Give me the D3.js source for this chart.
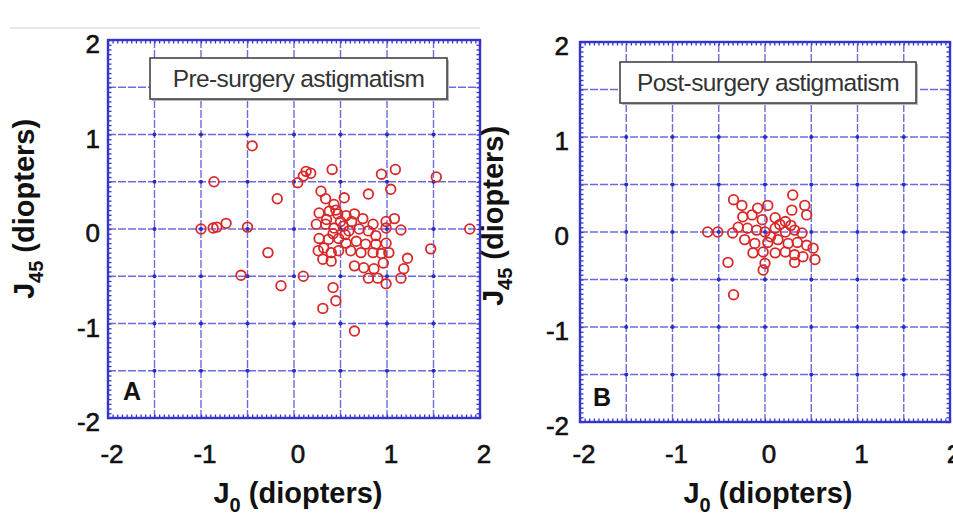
<!DOCTYPE html>
<html><head><meta charset="utf-8">
<script src="https://cdn.jsdelivr.net/npm/d3@7"></script>
<style>
html,body{margin:0;padding:0;background:#fff;}
svg{display:block;font-family:"Liberation Sans",Arial,Helvetica,sans-serif;}
</style></head>
<body>
<svg id="chart" width="953" height="516"></svg>
<script>
// ---------- data ----------
const tickValues = [-2, -1, 0, 1, 2];
const gridValues = [-2, -1.5, -1, -0.5, 0, 0.5, 1, 1.5, 2];
const panelLetters = ["A", "B"];
const panelTitles = ["Pre-surgery astigmatism", "Post-surgery astigmatism"];

const preJ0  = [-0.45,-0.86,-0.18,-1.0,-0.87,-0.83,-0.73,-0.5,-0.28,-0.57,-0.14,0.10,0.04,0.10,0.13,0.18,0.41,0.94,1.09,1.04,0.80,1.53,1.89,1.15,1.47,1.22,1.18,1.15,0.99,0.90,0.65,0.31,0.42,0.45,
  0.29,0.34,0.43,0.54,0.27,0.38,0.47,0.56,0.65,0.74,0.85,0.99,1.08,0.24,0.34,0.43,0.53,0.59,0.70,0.80,0.88,0.99,0.27,0.37,0.48,0.56,0.67,0.77,0.88,0.99,0.26,0.32,0.40,0.48,0.61,0.72,0.85,0.94,0.31,0.40,0.65,0.75,0.86,0.96,1.02,0.80,0.45,0.50,0.62,0.42,0.55,0.35];
const preJ45 = [0.88,0.50,0.32,0.0,0.01,0.02,0.06,0.02,-0.25,-0.49,-0.6,-0.50,0.49,0.56,0.61,0.59,0.63,0.58,0.63,0.42,0.37,0.55,0.0,-0.01,-0.21,-0.31,-0.42,-0.52,-0.58,-0.52,-1.08,-0.84,-0.62,-0.76,
  0.40,0.32,0.26,0.33,0.17,0.19,0.16,0.14,0.16,0.11,0.05,0.08,0.11,0.05,0.05,0.01,0.03,-0.02,0.0,-0.02,-0.07,0.01,-0.10,-0.11,-0.10,-0.15,-0.13,-0.16,-0.16,-0.15,-0.23,-0.20,-0.25,-0.23,-0.23,-0.25,-0.25,-0.26,-0.32,-0.34,-0.39,-0.41,-0.42,-0.36,-0.25,-0.52,0.20,0.08,0.08,-0.05,-0.06,0.10];

const postJ0  = [-0.62,-0.51,-0.34,-0.25,-0.08,0.03,0.30,0.29,0.43,0.45,-0.24,-0.14,-0.03,0.11,0.22,-0.35,-0.29,-0.19,-0.09,0.0,0.11,0.22,0.32,0.40,-0.22,-0.11,0.03,0.14,0.25,0.35,0.45,-0.13,-0.02,0.11,0.22,0.32,0.41,0.52,0.0,0.32,0.54,-0.40,-0.02,-0.34,0.16,0.06,0.28];
const postJ45 = [0.0,0.0,0.34,0.28,0.25,0.28,0.39,0.23,0.28,0.18,0.16,0.18,0.13,0.15,0.11,-0.01,0.05,0.04,0.02,0.0,0.04,0.0,0.02,-0.01,-0.08,-0.12,-0.11,-0.08,-0.12,-0.11,-0.14,-0.22,-0.21,-0.22,-0.21,-0.24,-0.26,-0.17,-0.33,-0.32,-0.29,-0.32,-0.40,-0.66,0.08,-0.05,0.07];

// ---------- layout ----------
const svg = d3.select("#chart");
const blue = "#3535cc";
const gridBlue = "#6c6cdc";

svg.append("line").attr("x1", 10).attr("x2", 480).attr("y1", 28).attr("y2", 28)
  .attr("stroke", "#d0d0d0").attr("stroke-width", 1);

const panels = [
  {x0: 108, x1: 480, y0: 418, y1: 40, J0: preJ0, J45: preJ45, legend: [150, 58, 297, 41], letter: [123, 400],
   ytitle: [34, 209], xtitle: 298},
  {x0: 580, x1: 950, y0: 422, y1: 42, J0: postJ0, J45: postJ45, legend: [620, 62, 296, 41], letter: [593, 406],
   ytitle: [503, 216], xtitle: 768}
];

panels.forEach((p, i) => {
  const x = d3.scaleLinear().domain([-2, 2]).range([p.x0, p.x1]);
  const y = d3.scaleLinear().domain([-2, 2]).range([p.y0, p.y1]);
  const g = svg.append("g");

  // grid lines
  const inner = gridValues.slice(1, -1);
  g.selectAll(".gx").data(inner).join("line")
    .attr("x1", d => x(d)).attr("x2", d => x(d)).attr("y1", y(-2)).attr("y2", y(2))
    .attr("stroke", gridBlue).attr("stroke-width", 1.4).attr("stroke-dasharray", "8,2");
  g.selectAll(".gy").data(inner).join("line")
    .attr("y1", d => y(d)).attr("y2", d => y(d)).attr("x1", x(-2)).attr("x2", x(2))
    .attr("stroke", gridBlue).attr("stroke-width", 1.4).attr("stroke-dasharray", "8,2");
  const inter = [];
  inner.forEach(a => inner.forEach(b => inter.push([a, b])));
  g.selectAll(".gd").data(inter).join("circle")
    .attr("cx", d => x(d[0])).attr("cy", d => y(d[1])).attr("r", 2).attr("fill", "#2c2cc4");

  // minor ticks via d3 axes
  const minor = d3.range(-2, 2.0001, 0.05).map(v => +v.toFixed(2));
  const mk = (axis) => axis.tickValues(minor).tickSize(3.5).tickFormat("");
  const styleAx = sel => { sel.select(".domain").remove(); sel.selectAll("line").attr("stroke", blue).attr("stroke-width", 1.3); };
  g.append("g").attr("transform", `translate(0,${y(-2)})`).call(mk(d3.axisTop(x))).call(styleAx);
  g.append("g").attr("transform", `translate(0,${y(2)})`).call(mk(d3.axisBottom(x))).call(styleAx);
  g.append("g").attr("transform", `translate(${x(-2)},0)`).call(mk(d3.axisRight(y))).call(styleAx);
  g.append("g").attr("transform", `translate(${x(2)},0)`).call(mk(d3.axisLeft(y))).call(styleAx);

  // frame
  g.append("rect").attr("x", x(-2)).attr("y", y(2)).attr("width", x(2) - x(-2)).attr("height", y(-2) - y(2))
    .attr("fill", "none").attr("stroke", blue).attr("stroke-width", 2.4);

  // legend box
  const [lx, ly, lw, lh] = p.legend;
  g.append("rect").attr("x", lx + 2).attr("y", ly + 2).attr("width", lw).attr("height", lh).attr("fill", "#bbb");
  g.append("rect").attr("x", lx).attr("y", ly).attr("width", lw).attr("height", lh)
    .attr("fill", "#fff").attr("stroke", "#444").attr("stroke-width", 1.6);
  g.append("text").attr("x", lx + lw / 2).attr("y", ly + lh / 2 + 8).attr("text-anchor", "middle")
    .attr("font-size", 24.5).attr("fill", "#333").attr("letter-spacing", -0.6).text(panelTitles[i]);

  // points
  g.selectAll(".pt").data(p.J0.map((v, k) => [v, p.J45[k]])).join("circle")
    .attr("cx", d => x(d[0])).attr("cy", d => y(d[1])).attr("r", 4.8)
    .attr("fill", "none").attr("stroke", "#d92828").attr("stroke-width", 1.8);

  // panel letter
  g.append("text").attr("x", p.letter[0]).attr("y", p.letter[1]).attr("font-size", 25)
    .attr("font-weight", "bold").attr("fill", "#111").text(panelLetters[i]);

  // tick labels
  g.selectAll(".xl").data(tickValues).join("text")
    .attr("x", d => x(d) + 4).attr("y", 463).attr("text-anchor", "middle")
    .attr("font-size", 26).attr("fill", "#111").attr("stroke", "#111").attr("stroke-width", 0.6).text(d => d);
  g.selectAll(".yl").data(tickValues).join("text")
    .attr("x", x(-2) - (i === 0 ? 8 : 11)).attr("y", d => y(d) + 13).attr("text-anchor", "end")
    .attr("font-size", 26).attr("fill", "#111").attr("stroke", "#111").attr("stroke-width", 0.6).text(d => d);

  // axis titles
  const xt = g.append("text").attr("x", p.xtitle).attr("y", 503).attr("text-anchor", "middle")
    .attr("font-size", 29).attr("fill", "#111").attr("font-weight", "bold");
  xt.append("tspan").text("J");
  xt.append("tspan").attr("font-size", 20).attr("dy", 9).text("0");
  xt.append("tspan").attr("dy", -9).text(" (diopters)");

  const yt = g.append("text").attr("transform", `translate(${p.ytitle[0]},${p.ytitle[1]}) rotate(-90)`)
    .attr("text-anchor", "middle").attr("font-size", 29).attr("fill", "#111").attr("font-weight", "bold");
  yt.append("tspan").text("J");
  yt.append("tspan").attr("font-size", 20).attr("dy", 9).text("45");
  yt.append("tspan").attr("dy", -9).text(" (diopters)");
});
</script>
</body></html>
